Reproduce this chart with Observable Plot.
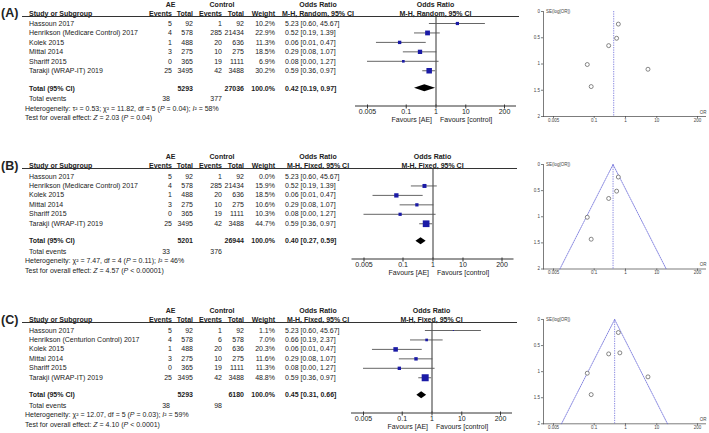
<!DOCTYPE html>
<html><head><meta charset="utf-8">
<script src="https://cdn.jsdelivr.net/npm/d3@7"></script>
<script src="https://cdn.jsdelivr.net/npm/@observablehq/plot@0.6"></script>
<style>
body{margin:0;background:#fff;}
#root{position:relative;width:709px;height:433px;overflow:hidden;font-family:"Liberation Sans",Arial,sans-serif;color:#222;}
.t{position:absolute;white-space:nowrap;font-size:7px;line-height:1;}
#root svg{position:absolute;}
</style></head><body><div id="root"></div>
<script>
// ---------- data ----------
const panelLabels = ["(A)", "(B)", "(C)"];
const methods = ["M-H, Random, 95% CI", "M-H, Fixed, 95% CI", "M-H, Fixed, 95% CI"];
const studiesAB = ["Hassoun 2017", "Henrikson (Medicare Control) 2017", "Kolek 2015", "Mittal 2014", "Shariff 2015", "Tarakji (WRAP-IT) 2019"];
const studiesC = ["Hassoun 2017", "Henrikson (Centurion Control) 2017", "Kolek 2015", "Mittal 2014", "Shariff 2015", "Tarakji (WRAP-IT) 2019"];
const aeEvents = [5, 4, 1, 3, 0, 25];
const aeTotal = [92, 578, 488, 275, 365, 3495];
const ctlEventsAB = [1, 285, 20, 10, 19, 42];
const ctlTotalAB = [92, 21434, 636, 275, 1111, 3488];
const ctlEventsC = [1, 6, 20, 10, 19, 42];
const ctlTotalC = [92, 578, 636, 275, 1111, 3488];
const orAB = [5.23, 0.52, 0.06, 0.29, 0.08, 0.59];
const loAB = [0.60, 0.19, 0.01, 0.08, 0.00, 0.36];
const hiAB = [45.67, 1.39, 0.47, 1.07, 1.27, 0.97];
const orC = [5.23, 0.66, 0.06, 0.29, 0.08, 0.59];
const loC = [0.60, 0.19, 0.01, 0.08, 0.00, 0.36];
const hiC = [45.67, 2.37, 0.47, 1.07, 1.27, 0.97];
const weightA = [10.2, 22.9, 11.3, 18.5, 6.9, 30.2];
const weightB = [0.0, 15.9, 18.5, 10.6, 10.3, 44.7];
const weightC = [1.1, 7.0, 20.3, 11.6, 11.3, 48.8];
const seAB = [1.10, 0.51, 1.01, 0.65, 1.43, 0.24];   // SE(log[OR])
const seC = [1.10, 0.64, 1.03, 0.66, 1.44, 0.25];
const totalAE = [5293, 5201, 5293];
const totalCtl = [27036, 26944, 6180];
const totalEventsAE = [38, 33, 38];
const totalEventsCtl = [377, 376, 98];
const pooledOR = [0.42, 0.40, 0.45];
const pooledLo = [0.19, 0.27, 0.31];
const pooledHi = [0.97, 0.59, 0.66];
const funnelLimitLo = [null, 0.008, 0.009];
const funnelLimitHi = [null, 20, 22];
const heterogeneity = [
  "Heterogeneity: τ² = 0.53; χ² = 11.82, df = 5 (<i>P</i> = 0.04); <i>I</i>² = 58%",
  "Heterogeneity: χ² = 7.47, df = 4 (<i>P</i> = 0.11); <i>I</i>² = 46%",
  "Heterogeneity: χ² = 12.07, df = 5 (<i>P</i> = 0.03); <i>I</i>² = 59%"
];
const overallEffect = [
  "Test for overall effect: <i>Z</i> = 2.03 (<i>P</i> = 0.04)",
  "Test for overall effect: <i>Z</i> = 4.57 (<i>P</i> &lt; 0.00001)",
  "Test for overall effect: <i>Z</i> = 4.10 (<i>P</i> &lt; 0.0001)"
];
const forestTicks = [0.005, 0.1, 1, 10, 200];
const funnelXTicks = [0.005, 0.1, 1, 10, 200];
const funnelYTicks = [0, 0.5, 1, 1.5, 2];

// ---------- layout ----------
const root = document.getElementById("root");
const bases = [16, 168.5, 322.5];
const forestRanges = [[367, 504], [363.5, 501.5], [363, 500]];
const lineRight = [519, 517, 517];
const funnelTop = [11, 164, 319], funnelBottom = [116, 268.5, 423.3];
const ROW = 9.45, ROW0 = 7, AXIS = 89.5, TOTALROW = 6.85;
const COL = {study: 29, aeEv: 172, aeTot: 193, cEv: 222, cTot: 244, w: 275, or: 285, aeHead: 170.5, cHead: 222, orHead: 318};
const FONT = "'Liberation Sans', Arial, sans-serif";
const BLUE_DASH = "#6a6ad8";

function txt(s, x, y, align = "left", opts = {}) {
  const d = document.createElement("div");
  d.className = "t";
  d.innerHTML = s;
  d.style.left = x + "px";
  d.style.top = y + "px";
  const tx = align === "right" ? "-100%" : align === "center" ? "-50%" : "0";
  d.style.transform = `translate(${tx},-50%)`;
  if (opts.bold) d.style.fontWeight = "bold";
  if (opts.size) d.style.fontSize = opts.size + "px";
  root.appendChild(d);
}
const fmt2 = v => v.toFixed(2);
const orText = (o, l, h) => `${fmt2(o)} [${fmt2(l)}, ${fmt2(h)}]`;

function drawPanel(k) {
  const base = bases[k];
  const isC = k === 2;
  const studies = isC ? studiesC : studiesAB;
  const cEv = isC ? ctlEventsC : ctlEventsAB;
  const cTot = isC ? ctlTotalC : ctlTotalAB;
  const ors = isC ? orC : orAB, los = isC ? loC : loAB, his = isC ? hiC : hiAB;
  const ws = [weightA, weightB, weightC][k];
  const ses = isC ? seC : seAB;
  const rowY = r => base + ROW0 + r * ROW;

  const data = studies.map((s, i) => ({study: s, row: i, or: ors[i], lo: los[i], hi: his[i], w: ws[i], se: ses[i]}));
  const included = data.filter(d => d.w > 0);

  // ---- forest plot ----
  const range = forestRanges[k];
  const xs = d3.scaleLog().domain([0.005, 200]).range(range);
  const fy0 = -ROW0 / ROW, fy1 = (AXIS - ROW0) / ROW;
  const diamond = [
    {x: pooledLo[k], y1: TOTALROW, y2: TOTALROW},
    {x: pooledOR[k], y1: TOTALROW - 0.38, y2: TOTALROW + 0.38},
    {x: pooledHi[k], y1: TOTALROW, y2: TOTALROW}
  ];
  const favours = [{x: 1, t: "Favours [AE]"}, {x: 1, t: "Favours [control]"}];
  const fw = range[1] + 21;
  const forest = Plot.plot({
    width: fw, height: 5 + AXIS + 28,
    marginLeft: range[0] - 12, marginRight: 10, marginTop: 5, marginBottom: 28,
    x: {type: "log", domain: [0.005, 200], range, axis: null},
    y: {domain: [fy0, fy1], reverse: true, axis: null},
    r: {type: "sqrt", domain: [0, 50], range: [0, 4]},
    style: {background: "transparent", fontFamily: FONT, color: "#222", overflow: "visible"},
    marks: [
      Plot.frame({anchor: "bottom", stroke: "#333", strokeWidth: 1}),
      Plot.ruleX([1], {stroke: "#333", strokeWidth: 1}),
      Plot.ruleX(forestTicks, {x: d => d, y1: fy1 - 1 / ROW, y2: fy1 + 3 / ROW, stroke: "#333", strokeWidth: 1}),
      Plot.text(forestTicks, {x: d => d, text: d => String(d), frameAnchor: "bottom", dy: 7.5, fontSize: 7}),
      Plot.ruleY(included, {y: "row", x1: d => Math.max(d.lo, 0.005), x2: "hi", stroke: "#555", strokeWidth: 0.9}),
      Plot.dot(included, {x: "or", y: "row", r: "w", symbol: "square", fill: "#1a1aa6"}),
      Plot.areaY(diamond, {x: "x", y1: "y1", y2: "y2", fill: "#000"}),
      Plot.text(favours.slice(0, 1), {x: "x", text: "t", frameAnchor: "bottom", dy: 15.5, dx: -4, textAnchor: "end", fontSize: 7}),
      Plot.text(favours.slice(1), {x: "x", text: "t", frameAnchor: "bottom", dy: 15.5, dx: 4, textAnchor: "start", fontSize: 7})
    ]
  });
  forest.style.left = "0px";
  forest.style.top = (base - 5) + "px";
  root.appendChild(forest);

  // ---- funnel plot ----
  const fxs = d3.scaleLog().domain([0.005, 200]).range([33, 177]);
  const frameLeft = 23;
  const fTop = funnelTop[k], fBot = funnelBottom[k];
  const fMarks = [
    Plot.frame({anchor: "left", stroke: "#444", strokeWidth: 0.7}),
    Plot.frame({anchor: "bottom", stroke: "#444", strokeWidth: 0.7}),
    Plot.ruleY(funnelYTicks, {y: d => d, x1: fxs.invert(frameLeft - 2), x2: fxs.invert(frameLeft), stroke: "#444", strokeWidth: 0.7}),
    Plot.text(funnelYTicks, {y: d => d, text: d => String(d), frameAnchor: "left", dx: -3.5, textAnchor: "end", fontSize: 4.5, fill: "#444"}),
    Plot.ruleX(funnelXTicks, {x: d => d, y1: 2, y2: 2 + 4 / (fBot - fTop), stroke: "#444", strokeWidth: 0.7}),
    Plot.text(funnelXTicks, {x: d => d, text: d => String(d), frameAnchor: "bottom", dy: 5, fontSize: 4.5, fill: "#444"}),
    Plot.ruleX([pooledOR[k]], {stroke: BLUE_DASH, strokeWidth: 0.8, strokeDasharray: "1.3,1.1"})
  ];
  if (funnelLimitLo[k] != null) {
    const tri = [{x: funnelLimitLo[k], y: 2}, {x: pooledOR[k], y: 0}, {x: funnelLimitHi[k], y: 2}];
    fMarks.push(Plot.line(tri, {x: "x", y: "y", stroke: BLUE_DASH, strokeWidth: 0.8, strokeDasharray: "1.3,1.1"}));
  }
  fMarks.push(
    Plot.dot(included, {x: "or", y: "se", r: 2, stroke: "#555", fill: "white", strokeWidth: 0.7}),
    Plot.text(["SE(log[OR])"], {frameAnchor: "top-left", dx: 2.5, dy: -1.5, textAnchor: "start", fontSize: 4.5, fill: "#444"}),
    Plot.text(["OR"], {frameAnchor: "bottom-right", dy: -3, dx: 1, textAnchor: "end", fontSize: 4.5, fill: "#444"})
  );
  const funnel = Plot.plot({
    width: 189, height: 5 + (fBot - fTop) + 14,
    marginLeft: frameLeft, marginRight: 4, marginTop: 5, marginBottom: 14,
    x: {type: "log", domain: [0.005, 200], range: [33, 177], axis: null},
    y: {domain: [0, 2], reverse: true, axis: null},
    style: {background: "transparent", fontFamily: FONT, color: "#333", overflow: "visible"},
    marks: fMarks
  });
  funnel.style.left = "520px";
  funnel.style.top = (fTop - 5) + "px";
  root.appendChild(funnel);

  // ---- table text ----
  const fHead = xs(1);
  txt(panelLabels[k], 1, base - 3, "left", {bold: true, size: 12.5});
  const h1 = base - 12.5, h2 = base - 3.3;
  txt("AE", COL.aeHead, h1, "center", {bold: true});
  txt("Control", COL.cHead, h1, "center", {bold: true});
  txt("Odds Ratio", COL.orHead, h1, "center", {bold: true});
  txt("Odds Ratio", fHead, h1, "center", {bold: true});
  txt("Study or Subgroup", COL.study, h2, "left", {bold: true});
  txt("Events", COL.aeEv, h2, "right", {bold: true});
  txt("Total", COL.aeTot, h2, "right", {bold: true});
  txt("Events", COL.cEv, h2, "right", {bold: true});
  txt("Total", COL.cTot, h2, "right", {bold: true});
  txt("Weight", COL.w, h2, "right", {bold: true});
  txt(methods[k], COL.orHead, h2, "center", {bold: true});
  txt(methods[k], fHead, h2, "center", {bold: true});
  const line = document.createElement("div");
  line.style.cssText = `position:absolute;left:22px;width:${lineRight[k] - 22}px;top:${base - 0.5}px;height:1px;background:#333;`;
  root.appendChild(line);

  data.forEach((d, i) => {
    const y = rowY(i);
    txt(d.study, COL.study, y);
    txt(String(aeEvents[i]), COL.aeEv, y, "right");
    txt(String(aeTotal[i]), COL.aeTot, y, "right");
    txt(String(cEv[i]), COL.cEv, y, "right");
    txt(String(cTot[i]), COL.cTot, y, "right");
    txt(d.w.toFixed(1) + "%", COL.w, y, "right");
    txt(orText(d.or, d.lo, d.hi), COL.or, y, "left");
  });
  const ty = rowY(TOTALROW);
  txt("Total (95% CI)", COL.study, ty, "left", {bold: true});
  txt(String(totalAE[k]), COL.aeTot, ty, "right", {bold: true});
  txt(String(totalCtl[k]), COL.cTot, ty, "right", {bold: true});
  txt("100.0%", COL.w, ty, "right", {bold: true});
  txt(orText(pooledOR[k], pooledLo[k], pooledHi[k]), COL.or, ty, "left", {bold: true});
  txt("Total events", COL.study, base + 82);
  txt(String(totalEventsAE[k]), COL.aeEv - 2, base + 82, "right");
  txt(String(totalEventsCtl[k]), COL.cEv, base + 82, "right");
  txt(heterogeneity[k], COL.study - 4, base + 91.5);
  txt(overallEffect[k], COL.study - 4, base + 101);
}
[0, 1, 2].forEach(drawPanel);
</script>
</body></html>
